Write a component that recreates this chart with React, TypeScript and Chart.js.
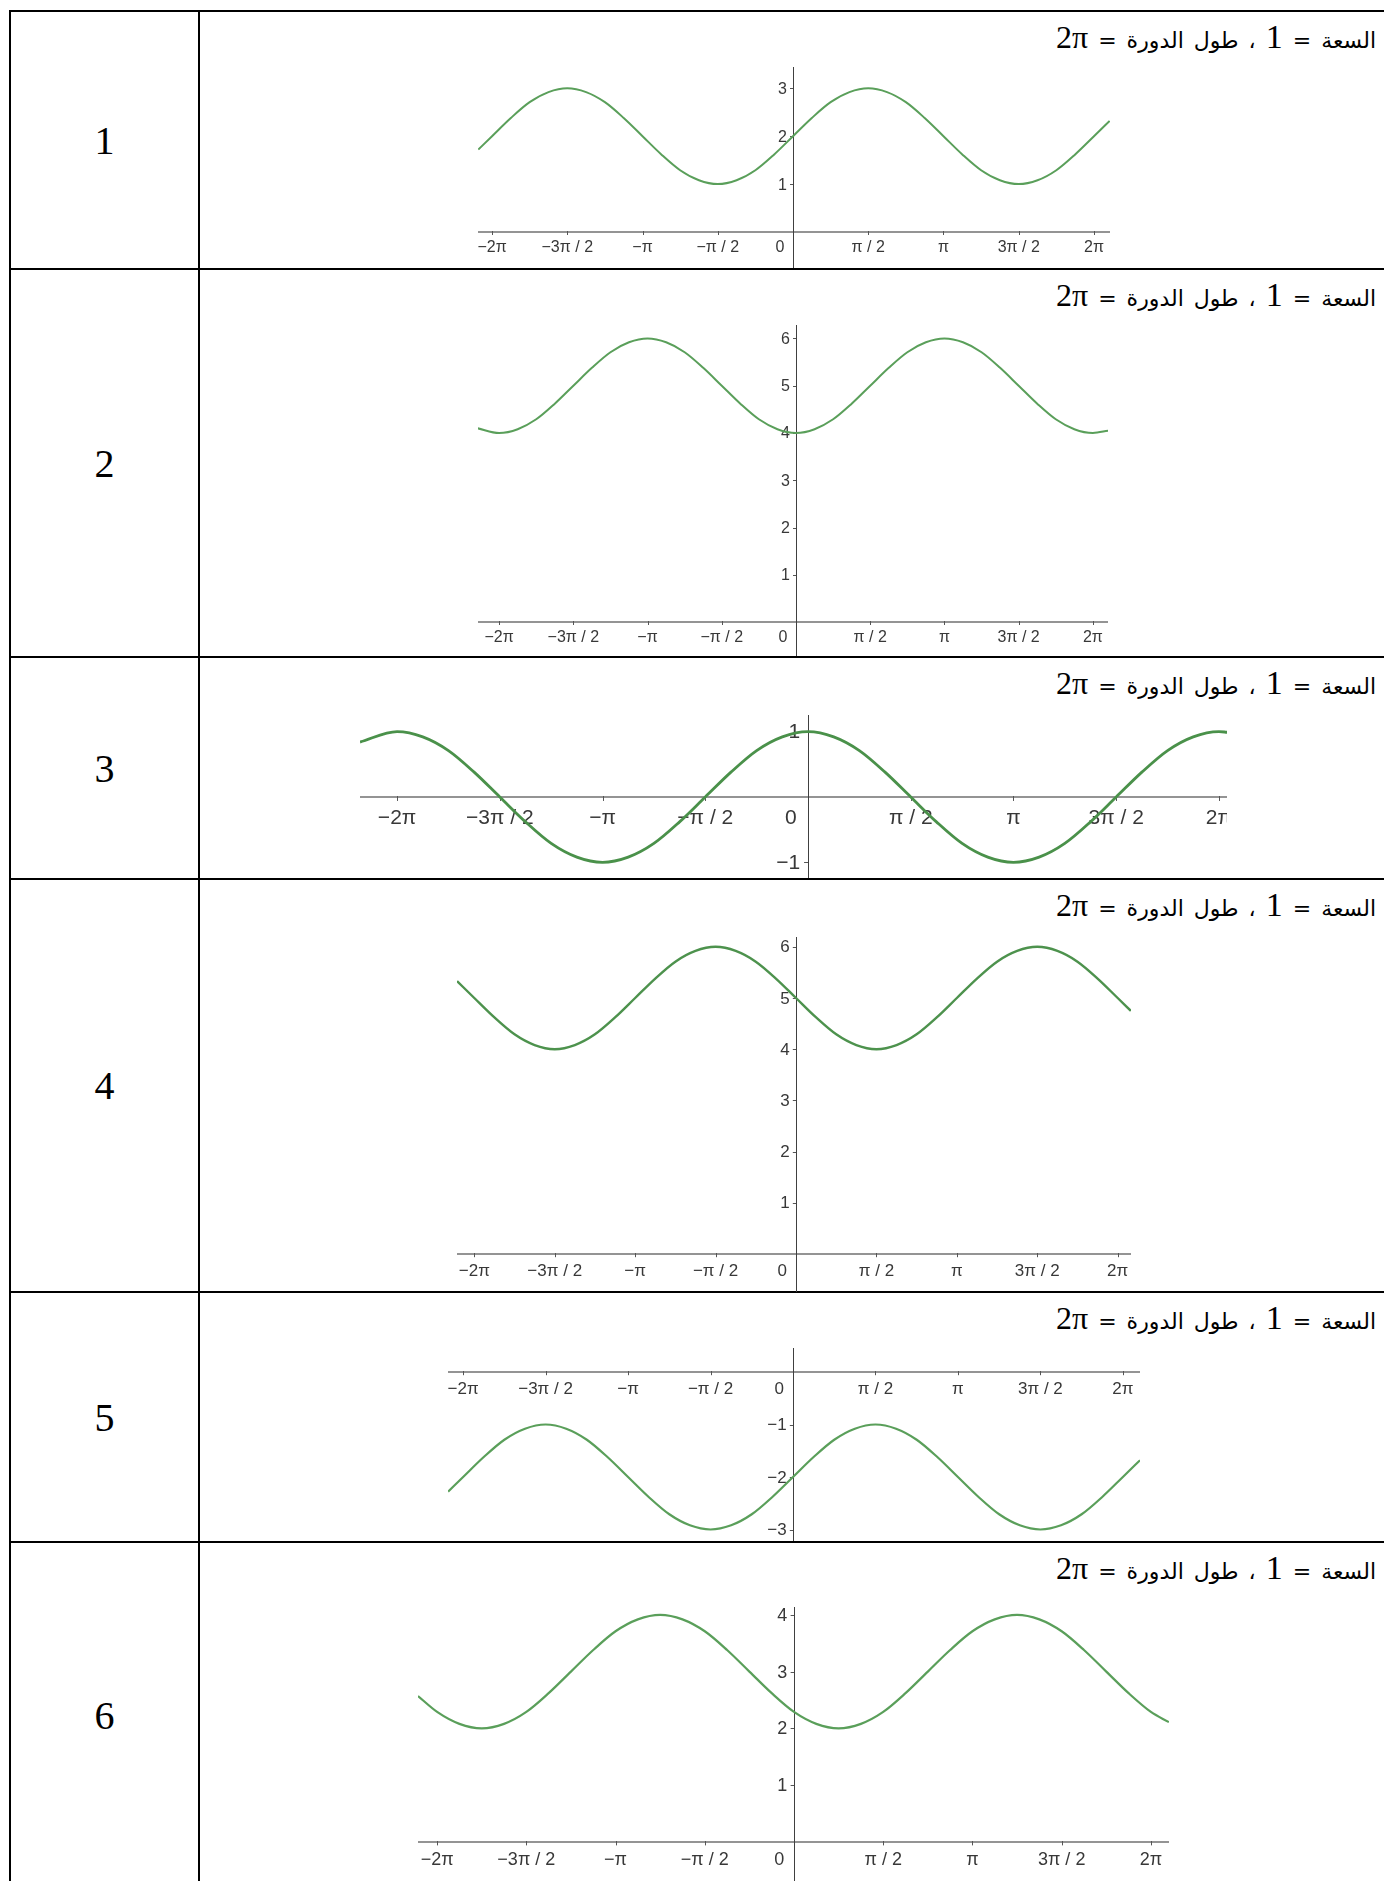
import React, { useEffect, useRef } from 'react';
import { Chart, registerables } from 'chart.js';

Chart.register(...registerables);

// ---------- data ----------
// sample positions (radians), every π/8 from −2π to 2π
const SAMPLE_X = [
  -6.2832, -5.8905, -5.4978, -5.1051, -4.7124, -4.3197, -3.927, -3.5343, -3.1416,
  -2.7489, -2.3562, -1.9635, -1.5708, -1.1781, -0.7854, -0.3927, 0,
  0.3927, 0.7854, 1.1781, 1.5708, 1.9635, 2.3562, 2.7489, 3.1416,
  3.5343, 3.927, 4.3197, 4.7124, 5.1051, 5.4978, 5.8905, 6.2832,
];

const SERIES_1 = [2, 2.38, 2.71, 2.92, 3, 2.92, 2.71, 2.38, 2, 1.62, 1.29, 1.08, 1, 1.08, 1.29, 1.62, 2, 2.38, 2.71, 2.92, 3, 2.92, 2.71, 2.38, 2, 1.62, 1.29, 1.08, 1, 1.08, 1.29, 1.62, 2];
const SERIES_2 = [4, 4.08, 4.29, 4.62, 5, 5.38, 5.71, 5.92, 6, 5.92, 5.71, 5.38, 5, 4.62, 4.29, 4.08, 4, 4.08, 4.29, 4.62, 5, 5.38, 5.71, 5.92, 6, 5.92, 5.71, 5.38, 5, 4.62, 4.29, 4.08, 4];
const SERIES_3 = [1, 0.92, 0.71, 0.38, 0, -0.38, -0.71, -0.92, -1, -0.92, -0.71, -0.38, 0, 0.38, 0.71, 0.92, 1, 0.92, 0.71, 0.38, 0, -0.38, -0.71, -0.92, -1, -0.92, -0.71, -0.38, 0, 0.38, 0.71, 0.92, 1];
const SERIES_4 = [5, 4.62, 4.29, 4.08, 4, 4.08, 4.29, 4.62, 5, 5.38, 5.71, 5.92, 6, 5.92, 5.71, 5.38, 5, 4.62, 4.29, 4.08, 4, 4.08, 4.29, 4.62, 5, 5.38, 5.71, 5.92, 6, 5.92, 5.71, 5.38, 5];
const SERIES_5 = [-2, -1.62, -1.29, -1.08, -1, -1.08, -1.29, -1.62, -2, -2.38, -2.71, -2.92, -3, -2.92, -2.71, -2.38, -2, -1.62, -1.29, -1.08, -1, -1.08, -1.29, -1.62, -2, -2.38, -2.71, -2.92, -3, -2.92, -2.71, -2.38, -2];
const SERIES_6 = [2.29, 2.08, 2, 2.08, 2.29, 2.62, 3, 3.38, 3.71, 3.92, 4, 3.92, 3.71, 3.38, 3, 2.62, 2.29, 2.08, 2, 2.08, 2.29, 2.62, 3, 3.38, 3.71, 3.92, 4, 3.92, 3.71, 3.38, 3, 2.62, 2.29];

// where each drawn curve begins and ends (x, y)
const START_X = [-6.57, -6.74, -6.85, -6.62, -6.57, -6.62];
const START_Y = [1.72, 4.1, 0.84, 5.33, -2.28, 2.57];
const END_X = [6.61, 6.61, 6.41, 6.54, 6.61, 6.6];
const END_Y = [2.32, 4.05, 0.99, 4.75, -1.68, 2.11];

const X_TICKS = [-6.2832, -4.7124, -3.1416, -1.5708, 0, 1.5708, 3.1416, 4.7124, 6.2832];
const X_TICK_LABELS = ['−2π', '−3π / 2', '−π', '−π / 2', '0', 'π / 2', 'π', '3π / 2', '2π'];

const Y_TICKS_1 = [1, 2, 3];
const Y_TICKS_2 = [1, 2, 3, 4, 5, 6];
const Y_TICKS_3 = [-1, 1];
const Y_TICKS_4 = [1, 2, 3, 4, 5, 6];
const Y_TICKS_5 = [-3, -2, -1];
const Y_TICKS_6 = [1, 2, 3, 4];

const ROW_NUMBERS = ['1', '2', '3', '4', '5', '6'];
const AMPLITUDE_LABEL = 'السعة';
const PERIOD_LABEL = 'طول الدورة';
const AMPLITUDE_VALUE = '1';
const PERIOD_VALUE = '2π';

const SERIES = [SERIES_1, SERIES_2, SERIES_3, SERIES_4, SERIES_5, SERIES_6];
const Y_TICKS = [Y_TICKS_1, Y_TICKS_2, Y_TICKS_3, Y_TICKS_4, Y_TICKS_5, Y_TICKS_6];

// ---------- layout (pixels) ----------
const ROW_LINES = [11, 269, 657, 879, 1292, 1542];
const ROW_CENTERS = [141, 464, 769, 1086, 1418, 1716];

const FRAMES = [
  { left: 478, top: 67, right: 1110, bottom: 268, ox: 793, oy: 232, unit: 47.9, font: 16, lw: 2, color: '#5a9f5a' },
  { left: 478, top: 325, right: 1108, bottom: 656, ox: 796, oy: 622, unit: 47.25, font: 16, lw: 2, color: '#5a9f5a' },
  { left: 360, top: 715, right: 1227, bottom: 878, ox: 808, oy: 797, unit: 65.4, font: 21, lw: 2.8, color: '#4a914a' },
  { left: 457, top: 937, right: 1131, bottom: 1292, ox: 796, oy: 1254, unit: 51.2, font: 17, lw: 2.4, color: '#4d924d' },
  { left: 448, top: 1348, right: 1140, bottom: 1541, ox: 793, oy: 1372, unit: 52.5, font: 17, lw: 2.2, color: '#5a9f5a' },
  { left: 418, top: 1607, right: 1169, bottom: 1881, ox: 794, oy: 1842, unit: 56.8, font: 18, lw: 2.2, color: '#5a9f5a' },
];

const ggbAxes = {
  id: 'ggbAxes',
  beforeDatasetsDraw(chart: any, _args: any, o: any) {
    const { ctx, chartArea: a } = chart;
    const xs = chart.scales.x;
    const ys = chart.scales.y;
    const ox = xs.getPixelForValue(0);
    const oy = ys.getPixelForValue(0);
    const s = o.font / 16;
    ctx.save();
    // x axis
    ctx.strokeStyle = '#717171';
    ctx.lineWidth = 1.6;
    ctx.beginPath();
    ctx.moveTo(a.left, oy);
    ctx.lineTo(a.right, oy);
    ctx.stroke();
    // y axis
    ctx.strokeStyle = '#404040';
    ctx.lineWidth = 1;
    const axx = Math.round(ox) + 0.5;
    ctx.beginPath();
    ctx.moveTo(axx, a.top);
    ctx.lineTo(axx, a.bottom);
    ctx.stroke();

    ctx.fillStyle = '#383838';
    ctx.font = `${o.font}px "Liberation Sans", Arial, sans-serif`;
    ctx.textBaseline = 'middle';
    ctx.strokeStyle = '#555';
    ctx.lineWidth = 1;
    o.xTicks.forEach((v: number, i: number) => {
      const px = xs.getPixelForValue(v);
      if (v !== 0) {
        ctx.beginPath();
        ctx.moveTo(Math.round(px) + 0.5, oy - 1);
        ctx.lineTo(Math.round(px) + 0.5, oy + 3 * s);
        ctx.stroke();
      }
      ctx.textAlign = 'center';
      const lx = v === 0 ? ox - 13 * s : px;
      ctx.fillText(o.xLabels[i], lx, oy + 16 * s);
    });
    o.yTicks.forEach((v: number) => {
      const py = ys.getPixelForValue(v);
      ctx.beginPath();
      ctx.moveTo(ox - 3 * s, Math.round(py) + 0.5);
      ctx.lineTo(ox, Math.round(py) + 0.5);
      ctx.stroke();
      ctx.textAlign = 'right';
      const lbl = v < 0 ? '−' + Math.abs(v) : String(v);
      ctx.fillText(lbl, ox - 6 * s, py + 1);
    });
    ctx.restore();
  },
};

function Graph({ idx }: { idx: number }) {
  const ref = useRef<HTMLCanvasElement>(null);
  const f = FRAMES[idx];
  const w = f.right - f.left;
  const h = f.bottom - f.top;
  useEffect(() => {
    const canvas = ref.current;
    if (!canvas) return;
    const ys = SERIES[idx];
    const pts = [
      { x: START_X[idx], y: START_Y[idx] },
      ...SAMPLE_X.map((x, i) => ({ x, y: ys[i] })),
      { x: END_X[idx], y: END_Y[idx] },
    ];
    const chart = new Chart(canvas, {
      type: 'line',
      data: {
        datasets: [
          {
            data: pts,
            borderColor: f.color,
            borderWidth: f.lw,
            pointRadius: 0,
            fill: false,
            cubicInterpolationMode: 'monotone',
          } as any,
        ],
      },
      options: {
        animation: false,
        responsive: false,
        devicePixelRatio: 1,
        events: [],
        layout: { padding: 0 },
        plugins: {
          legend: { display: false },
          tooltip: { enabled: false },
          ggbAxes: {
            xTicks: X_TICKS,
            xLabels: X_TICK_LABELS,
            yTicks: Y_TICKS[idx],
            font: f.font,
          },
        } as any,
        scales: {
          x: {
            type: 'linear',
            display: false,
            min: (f.left - f.ox) / f.unit,
            max: (f.right - f.ox) / f.unit,
          },
          y: {
            type: 'linear',
            display: false,
            min: (f.oy - f.bottom) / f.unit,
            max: (f.oy - f.top) / f.unit,
          },
        },
      },
      plugins: [ggbAxes],
    });
    return () => chart.destroy();
  }, [idx]);
  return (
    <canvas
      ref={ref}
      width={w}
      height={h}
      style={{ position: 'absolute', left: f.left, top: f.top, width: w, height: h }}
    />
  );
}

function Header({ top }: { top: number }) {
  return (
    <div
      dir="rtl"
      style={{
        position: 'absolute',
        right: 8,
        top: top + 7,
        height: 38,
        lineHeight: '38px',
        whiteSpace: 'nowrap',
        fontFamily: '"DejaVu Sans", sans-serif',
        fontSize: 22,
        wordSpacing: 3,
        color: '#000',
      }}
    >
      {AMPLITUDE_LABEL} ={' '}
      <span style={{ fontFamily: '"Liberation Serif", serif', fontSize: 34 }}>{AMPLITUDE_VALUE}</span>
      {' '}، {PERIOD_LABEL} ={' '}
      <span style={{ fontFamily: '"Liberation Serif", serif', fontSize: 32 }}>{PERIOD_VALUE}</span>
    </div>
  );
}

export default function App() {
  const line = '#000';
  return (
    <div
      style={{
        position: 'absolute',
        left: 0,
        top: 0,
        width: 1384,
        height: 1881,
        overflow: 'hidden',
        background: '#fff',
      }}
    >
      {/* table borders */}
      <div style={{ position: 'absolute', left: 9, top: 10, width: 2, height: 1900, background: line }} />
      <div style={{ position: 'absolute', left: 198, top: 10, width: 2, height: 1900, background: line }} />
      {ROW_LINES.map((y, i) => (
        <div key={'h' + i} style={{ position: 'absolute', left: 9, top: y - 1, width: 1400, height: 2, background: line }} />
      ))}
      {ROW_NUMBERS.map((n, i) => (
        <div
          key={'n' + i}
          style={{
            position: 'absolute',
            left: 11,
            width: 187,
            top: ROW_CENTERS[i] - 25,
            height: 50,
            lineHeight: '50px',
            textAlign: 'center',
            fontFamily: '"Liberation Serif", serif',
            fontSize: 40,
            color: '#000',
          }}
        >
          {n}
        </div>
      ))}
      {ROW_LINES.map((y, i) => (
        <Header key={'t' + i} top={y} />
      ))}
      {FRAMES.map((_, i) => (
        <Graph key={'g' + i} idx={i} />
      ))}
    </div>
  );
}
